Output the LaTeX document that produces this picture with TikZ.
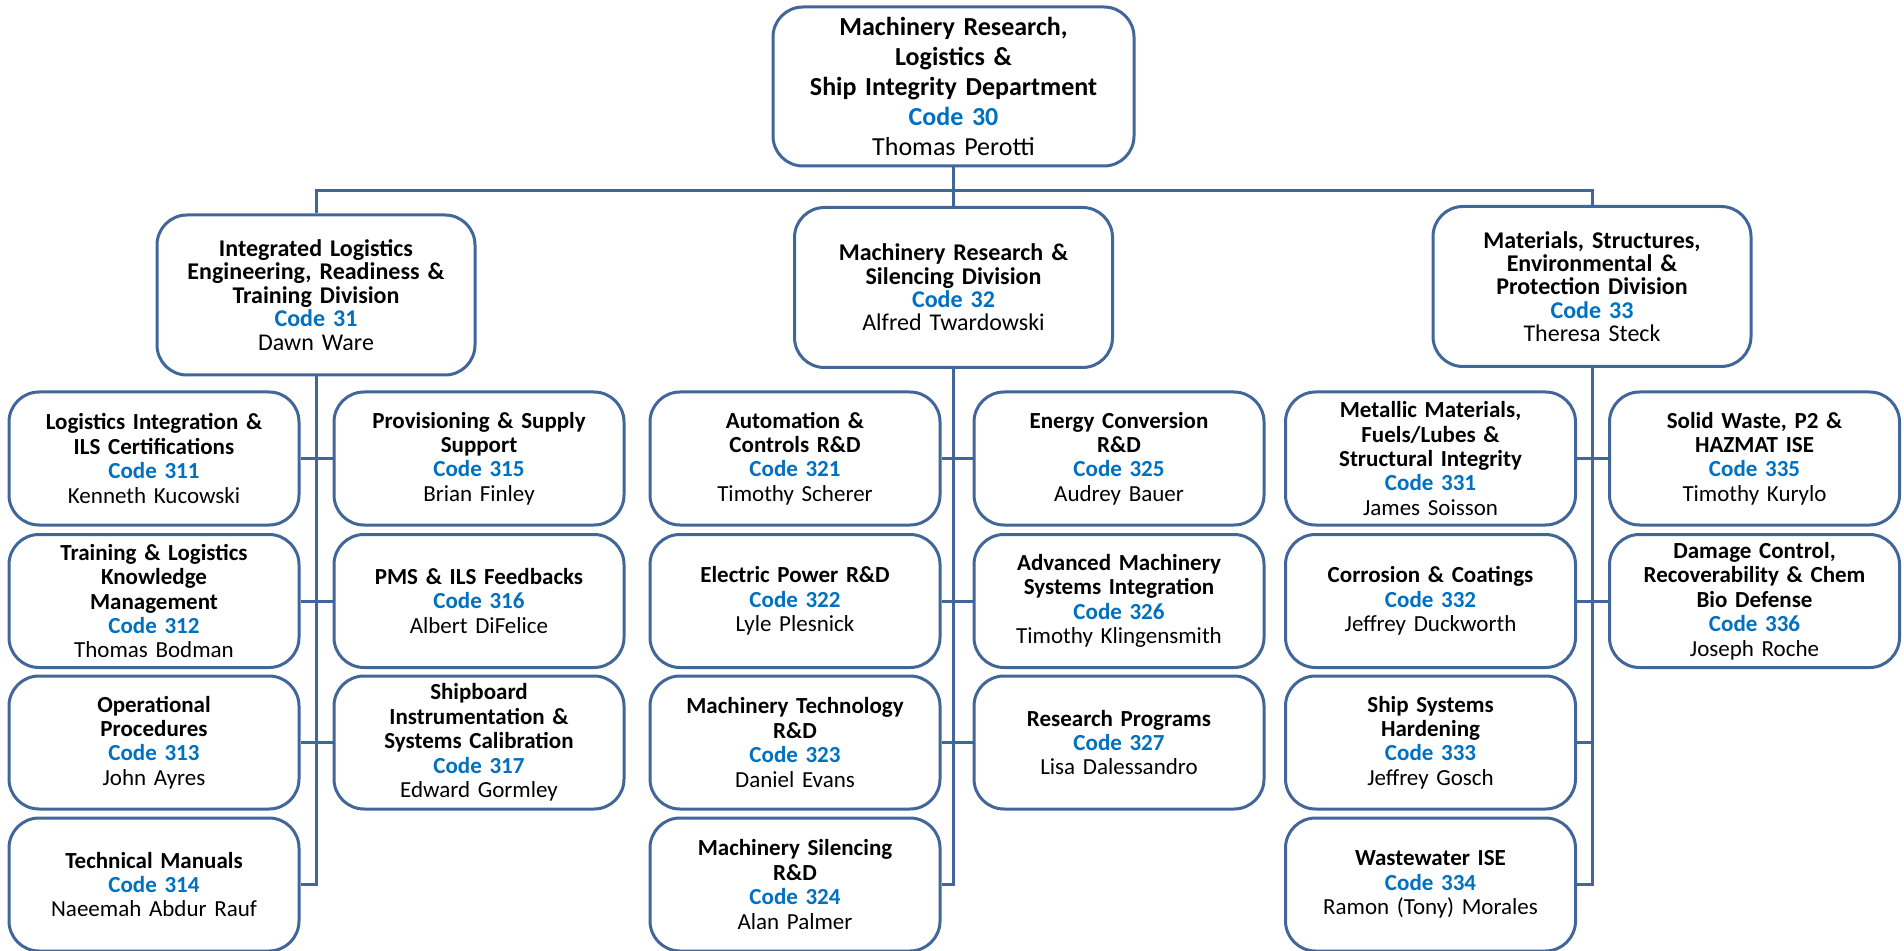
\documentclass[tikz,border=0pt]{standalone}
\usepackage{fontspec}
\setmainfont{Carlito}
\usepackage{xcolor}
\definecolor{linea}{HTML}{41679A}
\definecolor{codice}{HTML}{0070C0}
\newcommand{\codice}[1]{\textcolor{codice}{\bfseries Code #1}}
\newcommand{\voce}[3]{{\bfseries #1}\\\codice{#2}\\#3}
\tikzset{
  box/.style={draw=linea, line width=1.5pt, rounded corners=15pt, fill=white, align=center, inner sep=2pt},
  dept/.style={box, minimum width=180.5pt, minimum height=79.5pt, text width=176pt, font=\fontsize{13}{15}\selectfont},
  divisione/.style={box, minimum width=159pt, minimum height=80pt, text width=154pt, font=\fontsize{12}{11.7}\selectfont},
  ufficio/.style={box, minimum width=144.5pt, minimum height=66.5pt, text width=141pt, font=\fontsize{11.5}{12.2}\selectfont},
  filo/.style={draw=linea, line width=1.5pt}
}
\begin{document}
\begin{tikzpicture}[x=0.5pt, y=-0.5pt]
    \useasboundingbox (0,0) rectangle (1904,951);
    % Parametri
    \pgfmathsetmacro{\xA}{154}
    \pgfmathsetmacro{\xB}{479}
    \pgfmathsetmacro{\xC}{795}
    \pgfmathsetmacro{\xD}{1119}
    \pgfmathsetmacro{\xE}{1430.5}
    \pgfmathsetmacro{\xF}{1754.5}
    \pgfmathsetmacro{\yA}{458.5}
    \pgfmathsetmacro{\yB}{601}
    \pgfmathsetmacro{\yC}{742.5}
    \pgfmathsetmacro{\yD}{884.5}
    % Dipartimento e divisioni
    \node[dept] (t30) at (953.5,86.5) {\voce{Machinery Research,\\Logistics \&\\Ship Integrity Department}{30}{Thomas Perotti}};
    \node[divisione] (d31) at (316,295) {\voce{Integrated Logistics\\Engineering, Readiness \&\\Training Division}{31}{Dawn Ware}};
    \node[divisione] (d32) at (953.5,287.5) {\voce{Machinery Research \&\\Silencing Division}{32}{Alfred Twardowski}};
    \node[divisione] (d33) at (1592,286.5) {\voce{Materials, Structures,\\Environmental \&\\Protection Division}{33}{Theresa Steck}};
    % Uffici 31x
    \node[ufficio] (u311) at (\xA,\yA) {\voce{Logistics Integration \&\\ILS Certifications}{311}{Kenneth Kucowski}};
    \node[ufficio] (u312) at (\xA,\yB) {\voce{Training \& Logistics\\Knowledge\\Management}{312}{Thomas Bodman}};
    \node[ufficio] (u313) at (\xA,\yC) {\voce{Operational\\Procedures}{313}{John Ayres}};
    \node[ufficio] (u314) at (\xA,\yD) {\voce{Technical Manuals}{314}{Naeemah Abdur Rauf}};
    \node[ufficio] (u315) at (\xB,\yA) {\voce{Provisioning \& Supply\\Support}{315}{Brian Finley}};
    \node[ufficio] (u316) at (\xB,\yB) {\voce{PMS \& ILS Feedbacks}{316}{Albert DiFelice}};
    \node[ufficio] (u317) at (\xB,\yC) {\voce{Shipboard\\Instrumentation \&\\Systems Calibration}{317}{Edward Gormley}};
    % Uffici 32x
    \node[ufficio] (u321) at (\xC,\yA) {\voce{Automation \&\\Controls R\&D}{321}{Timothy Scherer}};
    \node[ufficio] (u322) at (\xC,\yB) {\voce{Electric Power R\&D}{322}{Lyle Plesnick}};
    \node[ufficio] (u323) at (\xC,\yC) {\voce{Machinery Technology\\R\&D}{323}{Daniel Evans}};
    \node[ufficio] (u324) at (\xC,\yD) {\voce{Machinery Silencing\\R\&D}{324}{Alan Palmer}};
    \node[ufficio] (u325) at (\xD,\yA) {\voce{Energy Conversion\\R\&D}{325}{Audrey Bauer}};
    \node[ufficio] (u326) at (\xD,\yB) {\voce{Advanced Machinery\\Systems Integration}{326}{Timothy Klingensmith}};
    \node[ufficio] (u327) at (\xD,\yC) {\voce{Research Programs}{327}{Lisa Dalessandro}};
    % Uffici 33x
    \node[ufficio] (u331) at (\xE,\yA) {\voce{Metallic Materials,\\Fuels/Lubes \&\\Structural Integrity}{331}{James Soisson}};
    \node[ufficio] (u332) at (\xE,\yB) {\voce{Corrosion \& Coatings}{332}{Jeffrey Duckworth}};
    \node[ufficio] (u333) at (\xE,\yC) {\voce{Ship Systems\\Hardening}{333}{Jeffrey Gosch}};
    \node[ufficio] (u334) at (\xE,\yD) {\voce{Wastewater ISE}{334}{Ramon (Tony) Morales}};
    \node[ufficio] (u335) at (\xF,\yA) {\voce{Solid Waste, P2 \&\\HAZMAT ISE}{335}{Timothy Kurylo}};
    \node[ufficio] (u336) at (\xF,\yB) {\voce{Damage Control,\\Recoverability \& Chem\\Bio Defense}{336}{Joseph Roche}};
    % Collegamenti
    \coordinate (bus) at (953.5,191);
    \draw[filo] (t30.south) -- (d32.north);
    \draw[filo] (d31.north) |- (bus) -| (d33.north);
    \draw[filo] (d31.south) |- (u314.east);
    \draw[filo] (u311.east) -- (u315.west);
    \draw[filo] (u312.east) -- (u316.west);
    \draw[filo] (u313.east) -- (u317.west);
    \draw[filo] (d32.south) |- (u324.east);
    \draw[filo] (u321.east) -- (u325.west);
    \draw[filo] (u322.east) -- (u326.west);
    \draw[filo] (u323.east) -- (u327.west);
    \draw[filo] (d33.south) |- (u334.east);
    \draw[filo] (u331.east) -- (u335.west);
    \draw[filo] (u332.east) -- (u336.west);
    \draw[filo] (u333.east) -- (u333.east -| d33.south);
\end{tikzpicture}
\end{document}
